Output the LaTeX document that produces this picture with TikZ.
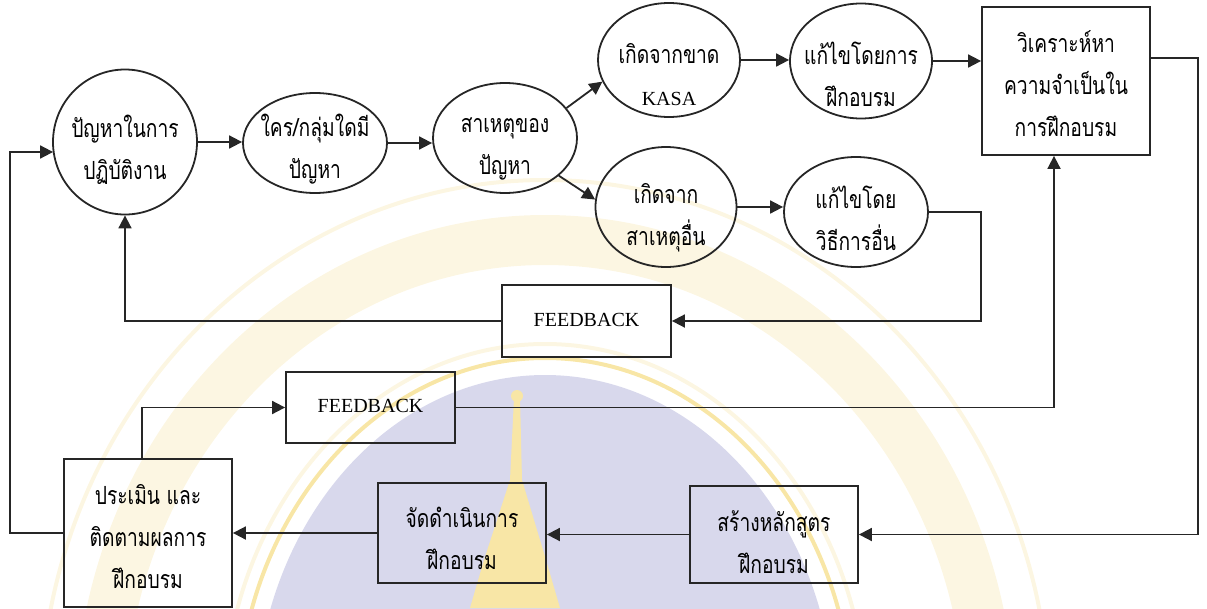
\documentclass[tikz,border=0pt]{standalone}
\usepackage{fontspec}
\setmainfont{Liberation Serif}
\newfontfamily\thai[Script=Thai,FakeStretch=0.77]{Loma}
\newfontfamily\latinf{Liberation Serif}
\usetikzlibrary{shapes.geometric,arrows.meta,calc}
\definecolor{lc}{HTML}{262626}
\definecolor{lav}{HTML}{D8D8EC}
\definecolor{yel}{HTML}{F8E6A6}
\definecolor{pyel}{HTML}{FCF6E2}
\tikzset{
  ln/.style={line width=1.8pt, draw=lc},
  arr/.style={ln, -{Triangle[length=13pt,width=13pt]}},
  ell/.style={ellipse, draw=lc, line width=1.8pt, inner sep=0pt},
  box/.style={rectangle, draw=lc, line width=1.8pt, inner sep=0pt},
  txt/.style={align=center, inner sep=0pt, font=\thai\fontsize{25}{42}\selectfont},
  ltxt/.style={align=center, inner sep=0pt, font=\latinf\fontsize{20}{42}\selectfont},
}
\begin{document}
\begin{tikzpicture}[x=1pt,y=-1pt]
\useasboundingbox (0,0) rectangle (1207,608);
% faint watermark
\begin{scope}
\clip (0,0) rectangle (1207,608);
\draw[pyel, line width=50pt] (545,720) ellipse [x radius=445pt, y radius=480pt];
\draw[pyel, line width=4pt] (545,720) ellipse [x radius=505pt, y radius=540pt];
\fill[lav] (545,720) ellipse [x radius=290pt, y radius=345pt];
\draw[yel, line width=4pt] (545,720) ellipse [x radius=308pt, y radius=362pt];
\draw[pyel, line width=4pt] (545,720) ellipse [x radius=322pt, y radius=376pt];
\fill[yel] (514,398) -- (520,398) -- (522,480) -- (546,560) -- (560,608) -- (470,608) -- (484,560) -- (510,480) -- cycle;
\fill[yel] (517,396) circle (6pt);
\end{scope}
% ellipses
\node[ell, minimum width=144pt, minimum height=145pt] (e1) at (125,142) {};
\node[ell, minimum width=144pt, minimum height=100pt] (e2) at (315,143) {};
\node[ell, minimum width=144pt, minimum height=110pt] (e3) at (505,138) {};
\node[ell, minimum width=142pt, minimum height=114pt] (e4) at (669,60) {};
\node[ell, minimum width=142pt, minimum height=115pt] (e5) at (861,61) {};
\node[ell, minimum width=141pt, minimum height=120pt] (e6) at (666,207) {};
\node[ell, minimum width=144pt, minimum height=110pt] (e7) at (856,212) {};
% boxes
\node[box, minimum width=168pt, minimum height=148pt] (r1) at (1066,81) {};
\node[box, minimum width=169pt, minimum height=72pt] (f1) at (586.5,321) {};
\node[box, minimum width=169pt, minimum height=71pt] (f2) at (370.5,407.5) {};
\node[box, minimum width=168pt, minimum height=148pt] (p) at (148,533) {};
\node[box, minimum width=168pt, minimum height=100pt] (j) at (462,533) {};
\node[box, minimum width=168pt, minimum height=97pt] (s) at (774,534.5) {};
% texts
\node[txt] (t1) at (125,150) {ปัญหาในการ\\ปฏิบัติงาน};
\node[txt] (t2) at (315,149) {ใคร/กลุ่มใดมี\\ปัญหา};
\node[txt] (t3) at (505,149) {สาเหตุของ\\ปัญหา};
\node[txt] (t4) at (669,75) {เกิดจากขาด\\{\latinf\fontsize{20}{42}\selectfont KASA}};
\node[txt] (t5) at (861,74) {แก้ไขโดยการ\\ฝึกอบรม};
\node[txt] (t6) at (666,218) {เกิดจาก\\สาเหตุอื่น};
\node[txt] (t7) at (856,218) {แก้ไขโดย\\วิธีการอื่น};
\node[txt] (tr1) at (1066,84) {วิเคราะห์หา\\ความจำเป็นใน\\การฝึกอบรม};
\node[ltxt] (tf1) at (586.5,320) {FEEDBACK};
\node[ltxt] (tf2) at (370.5,406) {FEEDBACK};
\node[txt] (tp) at (148,537) {ประเมิน และ\\ติดตามผลการ\\ฝึกอบรม};
\node[txt] (tj) at (462,538) {จัดดำเนินการ\\ฝึกอบรม};
\node[txt] (ts) at (774,542) {สร้างหลักสูตร\\ฝึกอบรม};
% helper coordinates
\coordinate (lx) at (10,0);
\coordinate (e1in) at ($(e1.west)+(1,10)$);
\coordinate (rx) at (1198,58);
\coordinate (fx) at (981,212);
\coordinate (gx) at (1054,0);
\coordinate (ptop) at ($(p.north)+(-6,0)$);
% connectors
\draw[arr] (p.west) -- (p.west -| lx) -- (lx |- e1in) -- (e1in);
\draw[arr] (e1.east) -- (e1.east -| e2.west);
\draw[arr] (e2.east) -- (e2.east -| e3.west);
\draw[arr] (e3.26) -- (e4.198);
\draw[arr] (e3.-35) -- (e6.174);
\draw[arr] (e4.east) -- (e4.east -| e5.west);
\draw[arr] (e5.east) -- (e5.east -| r1.west);
\draw[arr] (r1.east |- rx) -- (rx) -- (rx |- s.east) -- (s.east);
\draw[arr] (e6.east) -- (e6.east -| e7.west);
\draw[arr] (e7.east) -- (e7.east -| fx) -- (fx |- f1.east) -- (f1.east);
\draw[arr] (f1.west) -- (f1.west -| e1.south) -- (e1.south);
\draw[arr] (f2.east) -- (f2.east -| gx) -- (gx |- r1.south);
\draw[arr] (ptop) -- (ptop |- f2.west) -- (f2.west);
\draw[arr] (s.west) -- (s.west -| j.east);
\draw[arr] (j.west) -- (j.west -| p.east);
\end{tikzpicture}
\end{document}
